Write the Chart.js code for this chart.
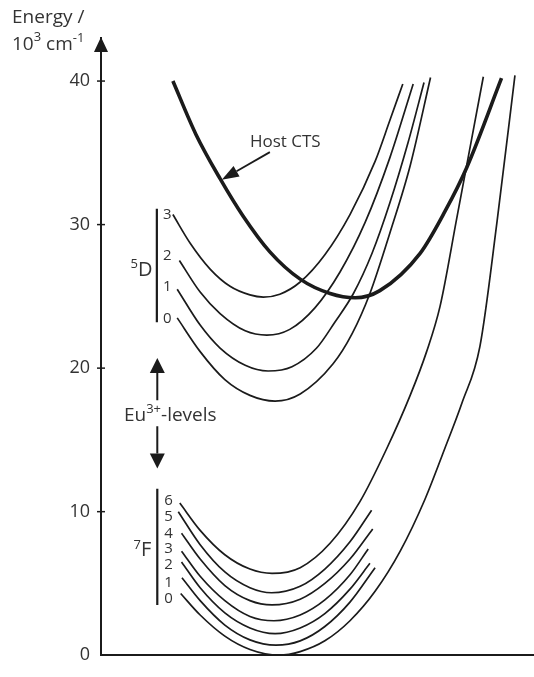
<!DOCTYPE html>
<html>
<head>
<meta charset="utf-8">
<script src="https://cdn.jsdelivr.net/npm/chart.js@4/dist/chart.umd.min.js"></script>
<style>
  html, body { margin: 0; padding: 0; background: #fff; }
  canvas { display: block; }
</style>
</head>
<body>
<canvas id="cc" width="534" height="677"></canvas>
<script>
// energy axis, 10^3 cm^-1
const yTicks = [0, 10, 20, 30, 40];

// host charge-transfer state
const hostCTS = [[16.6,40.0],[21.9,36.3],[27.5,33.2],[32.8,30.6],[39.0,28.1],[46.0,26.2],[52.9,25.2],[58.7,24.9],[64.4,25.4],[73.7,28.0],[79.4,30.9],[84.5,34.0],[92.5,40.2]];

// 5D levels of Eu3+
const d5_3 = [[16.6,30.7],[20.6,28.7],[25.2,26.9],[29.8,25.7],[34.4,25.1],[37.5,24.95],[41.3,25.15],[46.0,26.0],[51.7,27.9],[57.5,30.7],[63.3,34.4],[66.7,37.25],[69.7,39.8]];
const d5_2 = [[18.1,27.5],[22.9,25.3],[27.5,23.8],[33.3,22.6],[38.3,22.3],[43.6,22.7],[49.4,24.2],[55.2,26.7],[61.0,30.15],[66.7,34.65],[72.1,39.8]];
const d5_1 = [[17.6,25.5],[22.9,23.0],[27.5,21.4],[33.3,20.2],[38.6,19.8],[44.1,20.1],[49.8,21.4],[54.0,23.2],[58.3,25.2],[62.6,28.0],[66.7,31.5],[70.9,35.7],[74.6,39.9]];
const d5_0 = [[17.6,23.5],[22.9,21.15],[28.6,19.2],[34.4,18.1],[40.2,17.7],[46.0,18.2],[53.6,20.3],[58.0,22.4],[62.1,25.2],[66.7,29.4],[71.4,34.1],[76.1,40.25]];

// 7F levels of Eu3+
const f7_6 = [[18.2,10.6],[22.9,8.7],[28.6,7.0],[34.4,6.0],[39.5,5.7],[46.0,6.1],[52.9,7.8],[59.8,10.7],[66.0,14.4],[71.4,18.1],[75.2,21.15],[78.3,24.3],[82.2,30.5],[88.3,40.3]];
const f7_5 = [[17.85,10.0],[22.9,7.7],[28.6,5.8],[34.4,4.7],[39.4,4.35],[46.0,4.8],[51.7,6.0],[57.5,7.9],[62.5,10.1]];
const f7_4 = [[18.6,8.5],[22.9,6.7],[28.6,4.85],[34.4,3.8],[39.5,3.5],[46.0,3.9],[51.7,5.0],[57.5,6.7],[62.75,8.8]];
const f7_3 = [[18.6,7.25],[22.9,5.5],[28.6,3.8],[34.4,2.7],[39.95,2.4],[46.0,2.8],[51.7,3.85],[57.5,5.6],[61.7,7.4]];
const f7_2 = [[18.6,6.5],[22.9,4.7],[28.6,2.95],[34.4,1.9],[40.2,1.5],[46.0,1.9],[51.7,2.9],[57.5,4.6],[62.1,6.4]];
const f7_1 = [[18.7,5.4],[22.9,3.8],[28.6,2.1],[34.4,1.07],[40.4,0.7],[46.0,1.0],[51.7,2.0],[57.5,3.7],[63.3,6.1]];
const f7_0 = [[18.4,4.3],[22.9,2.8],[28.6,1.33],[34.4,0.4],[41.1,0],[46.0,0.25],[51.7,1.0],[57.5,2.4],[63.3,4.45],[69.1,7.25],[74.8,10.85],[79.4,14.4],[83.4,17.6],[87.5,21.5],[91.5,30.3],[95.6,40.4]];

const levels5D = ['3', '2', '1', '0'];
const levels7F = ['6', '5', '4', '3', '2', '1', '0'];

const FONT = '"Open Sans", "Noto Sans", sans-serif';
const INK = '#1b1b1b';
const TEXT = '#333333';

const thin = [d5_3, d5_2, d5_1, d5_0, f7_6, f7_5, f7_4, f7_3, f7_2, f7_1, f7_0];

function curve(pts, width) {
  return {
    data: pts.map(p => ({ x: p[0], y: p[1] })),
    showLine: true,
    borderColor: INK,
    borderWidth: width,
    pointRadius: 0,
    cubicInterpolationMode: 'monotone',
    fill: false
  };
}

// text with raised pieces for superscripts: [text, size, rise]
function rich(ctx, x, y, parts) {
  let cx = x;
  for (const [t, size, rise] of parts) {
    ctx.font = `${size}px ${FONT}`;
    ctx.fillText(t, cx, y - rise);
    cx += ctx.measureText(t).width;
  }
}

function head(ctx, tx, ty, fx, fy, len, half) {
  const a = Math.atan2(ty - fy, tx - fx);
  const bx = tx - len * Math.cos(a), by = ty - len * Math.sin(a);
  ctx.beginPath();
  ctx.moveTo(tx, ty);
  ctx.lineTo(bx + half * Math.sin(a), by - half * Math.cos(a));
  ctx.lineTo(bx - half * Math.sin(a), by + half * Math.cos(a));
  ctx.closePath();
  ctx.fill();
  return [bx, by];
}

const annotate = {
  id: 'annotate',
  afterDatasetsDraw(chart) {
    const { ctx } = chart;
    const xs = chart.scales.x, ys = chart.scales.y;
    const X = v => xs.getPixelForValue(v), Y = v => ys.getPixelForValue(v);
    const ax = chart.chartArea.left, top = chart.chartArea.top;

    ctx.save();
    ctx.fillStyle = INK;
    ctx.strokeStyle = INK;

    // axis arrow and ticks across the axis
    head(ctx, ax, top - 1, ax, top + 40, 15, 7);
    ctx.lineWidth = 1.5;
    yTicks.filter(v => v > 0).forEach(v => {
      ctx.beginPath();
      ctx.moveTo(ax - 4, Y(v));
      ctx.lineTo(ax + 4, Y(v));
      ctx.stroke();
    });

    // Host CTS pointer
    ctx.lineWidth = 1.8;
    const [bx, by] = head(ctx, X(27.9), Y(33.13), X(39.0), Y(35.05), 17, 6);
    ctx.beginPath();
    ctx.moveTo(X(39.0), Y(35.05));
    ctx.lineTo(bx, by);
    ctx.stroke();

    // brackets
    ctx.lineWidth = 2.2;
    ctx.beginPath();
    ctx.moveTo(X(12.9), Y(31.1));
    ctx.lineTo(X(12.9), Y(23.2));
    ctx.moveTo(X(13.0), Y(11.6));
    ctx.lineTo(X(13.0), Y(3.5));
    ctx.stroke();

    // Eu3+ arrows
    ctx.lineWidth = 2;
    const up = head(ctx, X(13.0), Y(20.7), X(13.0), Y(17.76), 15, 7.5);
    const dn = head(ctx, X(13.0), Y(13.0), X(13.0), Y(15.95), 15, 7.5);
    ctx.beginPath();
    ctx.moveTo(up[0], up[1]);
    ctx.lineTo(X(13.0), Y(17.76));
    ctx.moveTo(X(13.0), Y(15.95));
    ctx.lineTo(dn[0], dn[1]);
    ctx.stroke();

    // text
    ctx.fillStyle = TEXT;
    ctx.textBaseline = 'alphabetic';
    ctx.textAlign = 'left';
    rich(ctx, 12, 23, [['Energy /', 19, 0]]);
    rich(ctx, 12, 50, [['10', 19, 0], ['3', 13, 9], [' cm', 19, 0], ['-1', 13, 8]]);
    rich(ctx, X(34.4), Y(35.4), [['Host CTS', 17, 0]]);
    rich(ctx, X(5.3), Y(16.29), [['Eu', 19, 0], ['3+', 13, 8], ['-levels', 19, 0]]);
    rich(ctx, X(6.8), Y(26.4), [['5', 13, 8], ['D', 20, 0]]);
    rich(ctx, X(7.5), Y(6.92), [['7', 13, 7], ['F', 20, 0]]);

    ctx.textBaseline = 'middle';
    ctx.font = `15px ${FONT}`;
    const y5 = [30.69, 27.8, 25.7, 23.46];
    levels5D.forEach((t, i) => ctx.fillText(t, X(14.3), Y(y5[i])));
    const y7 = [10.78, 9.63, 8.47, 7.39, 6.31, 5.08, 3.90];
    levels7F.forEach((t, i) => ctx.fillText(t, X(14.6), Y(y7[i])));
    ctx.restore();
  }
};

new Chart(document.getElementById('cc'), {
  type: 'scatter',
  data: {
    datasets: [curve(hostCTS, 3.6), ...thin.map(c => curve(c, 1.7))]
  },
  options: {
    responsive: false,
    animation: false,
    layout: { padding: { left: 0, right: 0, top: 38, bottom: 5 } },
    plugins: { legend: { display: false }, tooltip: { enabled: false } },
    scales: {
      x: {
        type: 'linear', min: 0, max: 100,
        ticks: { display: false },
        grid: { display: false, drawTicks: false },
        border: { display: true, color: INK, width: 2 }
      },
      y: {
        min: 0, max: 43,
        afterFit(s) { s.width = 101; },
        afterBuildTicks(s) { s.ticks = yTicks.map(v => ({ value: v })); },
        ticks: { padding: 11, color: TEXT, font: { family: FONT, size: 18 } },
        grid: { display: false, drawTicks: false },
        border: { display: true, color: INK, width: 2 }
      }
    }
  },
  plugins: [annotate]
});
</script>
</body>
</html>
